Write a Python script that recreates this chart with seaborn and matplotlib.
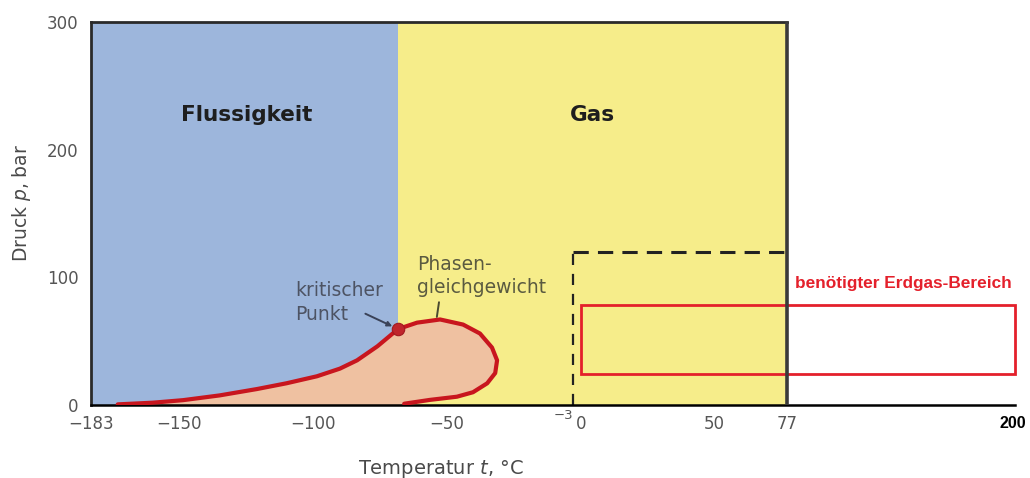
import numpy as np
import matplotlib
matplotlib.use("Agg")
import matplotlib.pyplot as plt
from matplotlib.patches import Rectangle
from matplotlib.transforms import ScaledTranslation
import seaborn as sns

# Phase envelope of the natural gas (temperature in °C, pressure in bar)
t_curve = [-173, -160, -148.6, -135, -121, -110, -98.6, -90, -83.6, -76, -68.3,
           -61.2, -52.6, -44, -37.7, -33.2, -31.3, -32, -35, -40.3, -46.3, -56.4, -66]
p_curve = [0.5, 1.8, 3.8, 7.5, 12.5, 17, 22.5, 28.5, 35, 46, 59.5,
           64.5, 67, 63, 56, 45, 35, 25, 17, 10, 6.5, 4, 1]

# Critical point
t_crit, p_crit = -68.3, 59.5

# Diagram limits
t_min, t_max, t_ext = -183, 77, 200
p_min, p_max = 0, 300

# Operating window (dashed) and required natural gas range (red box)
t_op, p_op = -3, 120
t_req = [0, 200]
p_req = [24, 78]

x_ticks = [-183, -150, -100, -50, 0, 50, 77, 200]
x_labels = ["\u2212183", "\u2212150", "\u2212100", "\u221250", "0", "50", "77", "200"]
y_ticks = [0, 100, 200, 300]

# Beyond 77 °C the axis continues compressed
k_ext = 0.6925


def fwd(x):
    x = np.asarray(x, dtype=float)
    return np.where(x <= t_max, x, t_max + (x - t_max) * k_ext)


def inv(y):
    y = np.asarray(y, dtype=float)
    return np.where(y <= t_max, y, t_max + (y - t_max) / k_ext)


sns.set_theme(style="white")
plt.rcParams["font.family"] = ["DejaVu Sans"]

BLUE = "#9db6dc"
YELLOW = "#f6ed8a"
SALMON = "#efc1a1"
CURVE = "#c8161e"
REDBOX = "#e4202b"
FRAME = "#2a2a2a"
GRAY = "#555555"

fig = plt.figure(figsize=(10.30, 4.78), dpi=100)
ax = fig.add_axes([91 / 1030, 73 / 478, 924 / 1030, 383 / 478])
ax.set_xscale("function", functions=(fwd, inv))
ax.set_xlim(t_min, t_ext)
ax.set_ylim(p_min, p_max)

# Phase regions
ax.axvspan(t_min, t_crit, color=BLUE, lw=0, zorder=0)
ax.axvspan(t_crit, t_max, color=YELLOW, lw=0, zorder=0)

# Two-phase area enclosed by the envelope
ax.fill(list(t_curve) + [t_curve[-1], t_curve[0]],
        list(p_curve) + [0, 0], color=SALMON, lw=0, zorder=1)
sns.lineplot(x=t_curve, y=p_curve, sort=False, estimator=None, color=CURVE,
             lw=3, ax=ax, zorder=3)
sns.scatterplot(x=[t_crit], y=[p_crit], color="#c0252c", s=80, edgecolor="#a01a20",
                linewidth=0.8, ax=ax, zorder=4)

# Operating window outline
ax.plot([t_op, t_op], [p_min, p_op], color="#222222", lw=1.6, ls=(0, (5, 4)), zorder=2)
ax.plot([t_op, t_max], [p_op, p_op], color="#222222", lw=2.2, ls=(0, (5, 3)), zorder=2)

# Required natural gas range
ax.add_patch(Rectangle((t_req[0], p_req[0]), t_req[1] - t_req[0], p_req[1] - p_req[0],
                       fill=False, ec=REDBOX, lw=2, zorder=5, clip_on=False))
ax.text(139.6, 95.5, "benötigter Erdgas-Bereich", color=REDBOX, fontsize=12.4,
        fontweight="bold", family="Liberation Sans", ha="center", va="center")

# Region names
ax.text(-125, 227, "Flussigkeit", fontsize=15.5, fontweight="bold", color="#1e1e1e",
        ha="center", va="center")
ax.text(4.5, 227, "Gas", fontsize=15.5, fontweight="bold", color="#1e1e1e",
        ha="center", va="center")

# Annotations
ax.text(-106.8, 80.3, "kritischer\nPunkt", fontsize=13.5, color="#4d5363",
        ha="left", va="center", linespacing=1.3)
ax.annotate("", xy=(t_crit - 1.2, p_crit + 1.2), xytext=(-80.5, 71.5),
            arrowprops=dict(arrowstyle="-|>", color="#3a4258", lw=1.4,
                            shrinkA=0, shrinkB=2, mutation_scale=7))
ax.text(-61.2, 101, "Phasen-\ngleichgewicht", fontsize=13.5, color="#5a5a40",
        ha="left", va="center", linespacing=1.3)
ax.annotate("", xy=(-53.8, 69), xytext=(-53.0, 80.5),
            arrowprops=dict(arrowstyle="-", color="#4a4a30", lw=1.4,
                            shrinkA=0, shrinkB=0))

# Frame
for side in ["top", "right", "left", "bottom"]:
    ax.spines[side].set_color(FRAME)
ax.spines["top"].set_bounds(t_min, t_max)
ax.spines["top"].set_linewidth(2)
ax.spines["left"].set_linewidth(2)
ax.spines["bottom"].set_linewidth(1.8)
ax.spines["bottom"].set_color("#000000")
ax.spines["right"].set_visible(False)
ax.axvline(t_max, color="#3a3a3a", lw=2.6, zorder=6)

# Ticks
ax.set_xticks(x_ticks)
ax.set_xticklabels(x_labels)
ax.set_xticks([t_op], minor=True)
ax.set_xticklabels(["\u22123"], minor=True)
ax.set_yticks(y_ticks)
ax.tick_params(axis="both", which="major", direction="in", length=5, width=1.5,
               color="#1f2a44", labelsize=12, labelcolor=GRAY)
ax.tick_params(axis="x", which="major", pad=7)
ax.tick_params(axis="y", which="major", pad=9)
ax.tick_params(axis="x", which="minor", length=0, labelsize=9.5, labelcolor=GRAY, pad=3)
for lbl in ax.get_xticklabels(minor=True):
    lbl.set_horizontalalignment("right")

xt = ax.xaxis.get_major_ticks()
xt[-1].tick1line.set_visible(False)
xt[-2].tick1line.set_visible(False)
lbl200 = xt[-1].label1
lbl200.set_color("black")
lbl200.set_fontweight("bold")
lbl200.set_family("Liberation Sans")
lbl200.set_fontsize(11.5)
lbl200.set_horizontalalignment("center")
lbl200.set_transform(lbl200.get_transform()
                     + ScaledTranslation(-2.5 / 100, -1.5 / 100, fig.dpi_scale_trans))
yt = ax.yaxis.get_major_ticks()
yt[0].tick1line.set_visible(False)
yt[-1].tick1line.set_visible(False)

# Axis titles
ax.set_xlabel("Temperatur $t$, °C", fontsize=14, color="#4a4a4a")
ax.set_ylabel("Druck $p$, bar", fontsize=13.5, color="#4a4a4a")
ax.xaxis.set_label_coords(0.379, -0.138)
ax.yaxis.set_label_coords(-0.063, 0.527)

fig.savefig("out.png", dpi=100, facecolor="white")
